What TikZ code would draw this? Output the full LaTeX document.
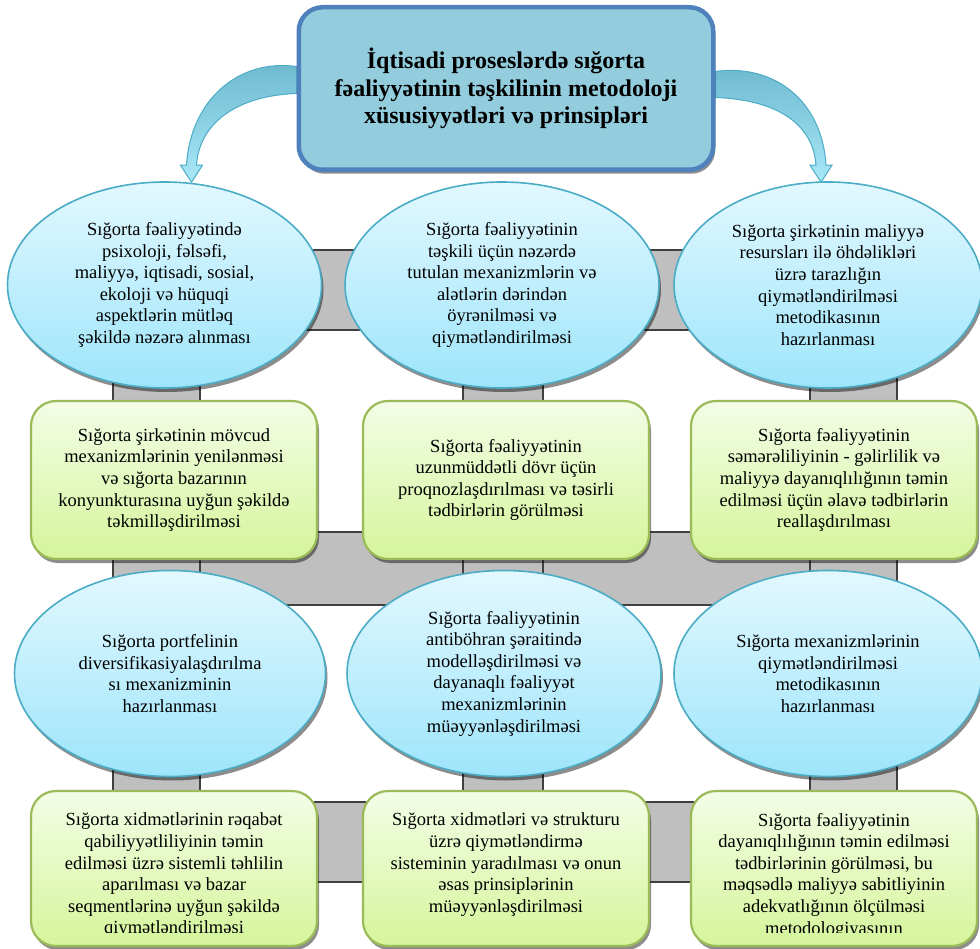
\documentclass[tikz,border=0pt]{standalone}
\usepackage{fontspec}
\setmainfont{Liberation Serif}
\usetikzlibrary{positioning, calc, shapes.geometric, shadows}
\pgfdeclarelayer{bg}
\pgfsetlayers{bg,main}

\definecolor{ovaltop}{HTML}{E2F8FF}
\definecolor{ovalbot}{HTML}{9EE5FA}
\definecolor{ovalline}{HTML}{4BACC6}
\definecolor{boxtop}{HTML}{F3FDE6}
\definecolor{boxbot}{HTML}{D5F59B}
\definecolor{boxline}{HTML}{9BBB59}
\definecolor{mainfill}{HTML}{93CDDD}
\definecolor{mainline}{HTML}{4F81BD}
\definecolor{barfill}{HTML}{BFBFBF}
\definecolor{barline}{HTML}{404040}
\definecolor{arrowdark}{HTML}{6DB8CE}
\definecolor{arrowlight}{HTML}{A8E8F8}

\tikzset{
        my-main/.style={
            rectangle, rounded corners=24pt, draw=mainline, line width=4.5pt, fill=mainfill,
            minimum width=414.5pt, minimum height=162.5pt, align=center,
            font=\bfseries\fontsize{24}{27.5}\selectfont,
            drop shadow={shadow xshift=2pt, shadow yshift=-4pt, fill=black, opacity=.45}
        },
        my-oval/.style={
            ellipse, draw=ovalline, line width=1.6pt, top color=ovaltop, bottom color=ovalbot,
            minimum width=314pt, minimum height=206pt, inner sep=0pt, align=center,
            font=\fontsize{18.5}{21.6}\selectfont,
            drop shadow={shadow xshift=2pt, shadow yshift=-4pt, fill=black, opacity=.45}
        },
        my-box/.style={
            rectangle, rounded corners=25pt, draw=boxline, line width=2.2pt, top color=boxtop, bottom color=boxbot,
            minimum width=286pt, minimum height=158pt, align=center,
            font=\fontsize{18.5}{21.6}\selectfont,
            drop shadow={shadow xshift=2pt, shadow yshift=-4pt, fill=black, opacity=.45}
        },
        my-text/.style={
            align=center, inner sep=0pt, font=\fontsize{18.5}{21.6}\selectfont
        },
        my-bar/.style={
            draw=barline, fill=barfill, line width=1.3pt
        },
        my-arrow/.style={
            draw=ovalline, line width=1pt, top color=arrowdark, bottom color=arrowlight
        },
}

\begin{document}
\begin{tikzpicture}[x=1pt, y=1pt]

        \useasboundingbox (0,0) rectangle (980,-949);
        \clip (0,0) rectangle (980,-949);

        %DRAW NODES (top box first, the rows are placed relative to it)
        \node [my-main]                       (MAIN)  at (506,-88.5)               {İqtisadi proseslərdə sığorta\\fəaliyyətinin təşkilinin metodoloji\\xüsusiyyətləri və prinsipləri};

        % FIRST ROW OF OVALS
        \node [my-oval]                       (OVAL2) at ($(MAIN)+(-4,-196.5)$)    {Sığorta fəaliyyətinin\\təşkili üçün nəzərdə\\tutulan mexanizmlərin və\\alətlərin dərindən\\öyrənilməsi və\\qiymətləndirilməsi};
        \node [my-oval]                       (OVAL1) at ($(OVAL2)+(-337.5,0)$)    {Sığorta fəaliyyətində\\psixoloji, fəlsəfi,\\maliyyə, iqtisadi, sosial,\\ekoloji və hüquqi\\aspektlərin mütləq\\şəkildə nəzərə alınması};
        \node [my-oval, minimum width=308pt]  (OVAL3) at ($(OVAL2)+(326,0)$)       {Sığorta şirkətinin maliyyə\\resursları ilə öhdəlikləri\\üzrə tarazlığın\\qiymətləndirilməsi\\metodikasının\\hazırlanması};

        % SECOND ROW (BOXES)
        \node [my-box]                        (BOX2)  at ($(OVAL2)+(4,-195)$)      {Sığorta fəaliyyətinin\\uzunmüddətli dövr üçün\\proqnozlaşdırılması və təsirli\\tədbirlərin görülməsi};
        \node [my-box]                        (BOX1)  at ($(BOX2)+(-332,0)$)       {Sığorta şirkətinin mövcud\\mexanizmlərinin yenilənməsi\\və sığorta bazarının\\konyunkturasına uyğun şəkildə\\təkmilləşdirilməsi};
        \node [my-box]                        (BOX3)  at ($(BOX2)+(328,0)$)        {Sığorta fəaliyyətinin\\səmərəliliyinin - gəlirlilik və\\maliyyə dayanıqlılığının təmin\\edilməsi üçün əlavə tədbirlərin\\reallaşdırılması};

        % THIRD ROW OF OVALS
        \node [my-oval]                       (OVAL5) at ($(BOX2)+(-2,-193.5)$)    {Sığorta fəaliyyətinin\\antiböhran şəraitində\\modelləşdirilməsi və\\dayanaqlı fəaliyyət\\mexanizmlərinin\\müəyyənləşdirilməsi};
        \node [my-oval, minimum width=311pt]  (OVAL4) at ($(OVAL5)+(-334,0)$)      {Sığorta portfelinin\\diversifikasiyalaşdırılma\\sı mexanizminin\\hazırlanması};
        \node [my-oval, minimum width=308pt]  (OVAL6) at ($(OVAL5)+(324,0)$)       {Sığorta mexanizmlərinin\\qiymətləndirilməsi\\metodikasının\\hazırlanması};

        % FOURTH ROW (BOXES, the text runs out at the bottom)
        \node [my-box, minimum height=155pt]  (BOX5)  at ($(BOX2)+(0,-388.5)$)     {};
        \node [my-box, minimum height=155pt]  (BOX4)  at ($(BOX5)+(-332,0)$)       {};
        \node [my-box, minimum height=155pt]  (BOX6)  at ($(BOX5)+(328,0)$)        {};

        \begin{scope}
            \clip (0,0) rectangle (980,-932);
            \node [my-text, anchor=north] (TXT4) at ($(BOX4.north)+(0,-23)$) {Sığorta xidmətlərinin rəqabət\\qabiliyyətliliyinin təmin\\edilməsi üzrə sistemli təhlilin\\aparılması və bazar\\seqmentlərinə uyğun şəkildə\\qiymətləndirilməsi};
            \node [my-text, anchor=north] (TXT5) at ($(BOX5.north)+(0,-23)$) {Sığorta xidmətləri və strukturu\\üzrə qiymətləndirmə\\sisteminin yaradılması və onun\\əsas prinsiplərinin\\müəyyənləşdirilməsi};
            \node [my-text, anchor=north] (TXT6) at ($(BOX6.north)+(0,-23)$) {Sığorta fəaliyyətinin\\dayanıqlılığının təmin edilməsi\\tədbirlərinin görülməsi, bu\\məqsədlə maliyyə sabitliyinin\\adekvatlığının ölçülməsi\\metodologiyasının};
        \end{scope}

        % GRAY FRAME BEHIND THE SHAPES
        \begin{pgfonlayer}{bg}
            \foreach \ya/\yb in {250/330, 532/605, 802/882} {
                \draw [my-bar] (113,-\ya) rectangle (897,-\yb);
            }
            \foreach \xa/\xb in {113/200, 463/543, 810/897} {
                \draw [my-bar] (\xa,-250) rectangle (\xb,-882);
            }

            % CURVED ARROWS FROM THE TOP BOX
            \coordinate (LROOT) at ($(MAIN.west)+(0,8)$);
            \coordinate (LTIP)  at ($(OVAL1.north)+(27,-1)$);
            \coordinate (RROOT) at ($(MAIN.east)+(0,4)$);
            \coordinate (RTIP)  at ($(OVAL3.north)+(-7,-1)$);

            \draw [my-arrow] ($(LROOT)+(0,14)$) .. controls +(-57,8) and +(4,66) .. ($(LTIP)+(-5,17)$)
                -- ($(LTIP)+(-11,17)$) -- (LTIP) -- ($(LTIP)+(11,17)$) -- ($(LTIP)+(5,17)$)
                .. controls +(3,44) and +(-57,-2) .. ($(LROOT)+(0,-13)$) -- cycle;
            \draw [my-arrow] ($(RROOT)+(0,13)$) .. controls +(57,8) and +(-4,66) .. ($(RTIP)+(5,17)$)
                -- ($(RTIP)+(11,17)$) -- (RTIP) -- ($(RTIP)+(-11,17)$) -- ($(RTIP)+(-5,17)$)
                .. controls +(-3,44) and +(57,-2) .. ($(RROOT)+(0,-13)$) -- cycle;
        \end{pgfonlayer}

\end{tikzpicture}
\end{document}
